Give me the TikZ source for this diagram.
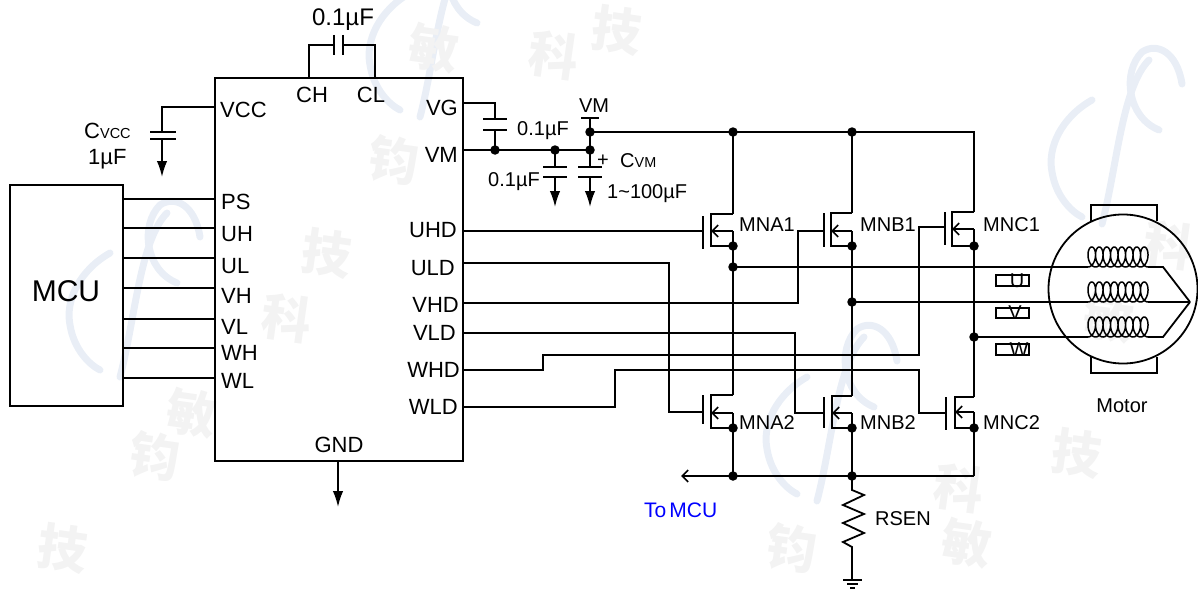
\documentclass[tikz,border=0pt]{standalone}
\usepackage{fontspec}
\setmainfont{Liberation Sans}
\newfontfamily\cjk{Noto Sans CJK SC}
\usetikzlibrary{arrows.meta}
\definecolor{markblue}{RGB}{233,238,246}
\definecolor{markgray}{RGB}{243,243,243}
\definecolor{tolink}{RGB}{0,0,255}

\tikzset{
  every node/.style={font=\fontsize{20}{24}\selectfont, inner sep=0pt, text height=14.3pt, text depth=0pt},
  pinlabel/.style={font=\fontsize{22}{26}\selectfont, text height=15.8pt},
  wire/.style={line width=1.8pt, line join=miter},
  dot/.style={circle, fill=black, minimum size=9.5pt, text height=, text depth=},
  gndarrow/.style={wire, -{Latex[length=16pt,width=10.5pt]}},
  barb/.style={wire, -{Straight Barb[length=6pt,width=12pt,line width=1.6pt]}},
  block/.style={draw, line width=1.8pt, anchor=north west},
  swoosh/.style={markblue, line width=7pt, line cap=round},
  seal/.style={markgray, font=\cjk\bfseries\fontsize{50}{58}\selectfont, rotate=-8},
}

\begin{document}
\begin{tikzpicture}[x=1pt, y=-1pt]
\useasboundingbox (0,0) rectangle (1198,591);

\foreach \ox/\oy in {0/0, 300/-260, 697/124, 982/-153}{
  \begin{scope}[shift={(\ox,\oy)}]
    \draw[swoosh] (110,253) .. controls (80,270) and (65,300) .. (70,325) .. controls (74,350) and (90,365) .. (100,370);
    \draw[swoosh] (167,213) .. controls (140,240) and (135,320) .. (120,377);
    \draw[swoosh] (200,237) .. controls (195,205) and (175,195) .. (160,205) .. controls (140,225) and (145,270) .. (177,283);
  \end{scope}
}
\foreach \ch/\mx/\my in {钧/153/468, 敏/190/425, 技/61/560, 科/285/330, 技/325/265, 钧/392/172, 敏/432/60,
                         科/552/67, 技/615/42, 钧/790/560, 敏/965/555, 科/957/500, 技/1075/465, 敏/1107/330, 科/1167/257}{
  \node[seal] (seal\mx) at (\mx,\my) {\ch};
}

\node[block, minimum width=113pt, minimum height=221pt] (mcu) at (9,184) {};
\node[block, minimum width=248pt, minimum height=383pt] (chip) at (214,77) {};
\node (mcutext) at (66,294) {\fontsize{30}{36}\selectfont MCU};

\foreach \pin/\yl/\yw in {PS/202/199, UH/234/228, UL/266/258, VH/296/288, VL/327/319, WH/353/348, WL/381/378}{
  \node[pinlabel, anchor=west] (lab\pin) at (221,\yl) {\pin};
  \coordinate (m\pin) at (122,\yw);
  \coordinate (c\pin) at (214,\yw);
  \draw[wire] (m\pin) -- (c\pin);
}
\foreach \pin/\yl/\xr in {VG/108/458, VM/155/458, UHD/230/457, ULD/268/455, VHD/305/459, VLD/333/456, WHD/370/460, WLD/407/458}{
  \node[pinlabel, anchor=east] (lab\pin) at (\xr,\yl) {\pin};
}
\node[pinlabel, anchor=west] (labVCC) at (220,110) {VCC};
\node[pinlabel] (labCH) at (312,95) {CH};
\node[pinlabel] (labCL) at (371,95) {CL};
\node[pinlabel] (labGND) at (339,445) {GND};

\coordinate (cCH) at (309,77);
\coordinate (cCL) at (375,77);
\coordinate (bCH) at (309,45);
\coordinate (bCL) at (375,45);
\coordinate (capa) at (334,45);
\coordinate (capb) at (343,45);
\draw[wire] (cCH) -- (bCH) -- (capa);
\draw[wire] (cCL) -- (bCL) -- (capb);
\draw[wire] (334,35) -- (334,55);
\draw[wire] (343,35) -- (343,55);
\node[font=\fontsize{24}{28}\selectfont] (capH) at (343,18) {0.1µF};

\coordinate (cVCC) at (214,107);
\coordinate (vccb) at (162,107);
\coordinate (vcca) at (162,132);
\coordinate (vccc) at (162,139);
\coordinate (vcct) at (162,177);
\draw[wire] (cVCC) -- (vccb) -- (vcca);
\draw[wire] (150,132) -- (176,132);
\draw[wire] (150,139) -- (176,139);
\draw[gndarrow] (vccc) -- (vcct);
\node[pinlabel, anchor=west] (labC) at (84,131) {C{\fontsize{14.5}{16}\selectfont VCC}};
\node[pinlabel, anchor=west] (lab1u) at (88,157) {1µF};

\coordinate (cVG) at (462,103);
\coordinate (vgb) at (495,103);
\coordinate (vga) at (495,119);
\coordinate (vgc) at (495,130);
\coordinate (jVG) at (495,150);
\coordinate (cVM) at (462,150);
\coordinate (jC) at (555,150);
\coordinate (jD) at (590,150);
\coordinate (jVM) at (590,132);
\coordinate (vmtop) at (590,118);
\draw[wire] (cVG) -- (vgb) -- (vga);
\draw[wire] (483,119) -- (507,119);
\draw[wire] (483,130) -- (507,130);
\draw[wire] (vgc) -- (jVG);
\draw[wire] (cVM) -- (jD);
\draw[wire] (vmtop) -- (jD);
\draw[wire] (581,118) -- (599,118);
\node (labVMtop) at (594,105) {VM};
\node[anchor=west] (cap2) at (517,128) {0.1µF};
\node[anchor=west] (cap3) at (488,179) {0.1µF};
\node[anchor=west] (cap4) at (607,191) {1\textasciitilde100µF};
\node (plus) at (603,159) {+};
\node[anchor=west] (labCVM) at (620,160) {C{\fontsize{14.4}{16}\selectfont VM}};
\foreach \cx/\top/\lft/\rgt in {555/jC/543/567, 590/jD/578/602}{
  \coordinate (up\cx) at (\cx,167);
  \coordinate (dn\cx) at (\cx,177);
  \coordinate (tip\cx) at (\cx,207);
  \draw[wire] (\top) -- (up\cx);
  \draw[wire] (\lft,167) -- (\rgt,167);
  \draw[wire] (\lft,177) -- (\rgt,177);
  \draw[gndarrow] (dn\cx) -- (tip\cx);
}

\coordinate (chipgnd) at (338,460);
\coordinate (gndtip) at (338,507);
\draw[gndarrow] (chipgnd) -- (gndtip);

\foreach \fet/\gx/\gt/\gb/\gy/\cx/\dx/\ct/\cm/\cb in {
    A1/703/216/249/231/711/733/214/231/246,
    B1/824/213/247/231/831/852/213/231/246,
    C1/945/212/245/227/952/974/212/229/246,
    A2/703/395/424/412/711/733/395/413/428,
    B2/824/397/428/413/832/852/396/413/428,
    C2/946/397/430/413/955/974/397/412/428}{
  \coordinate (g\fet) at (\gx,\gy);
  \coordinate (ct\fet) at (\cx,\ct);
  \coordinate (cb\fet) at (\cx,\cb);
  \coordinate (cm\fet) at (\cx,\cm);
  \coordinate (d\fet) at (\dx,\ct);
  \coordinate (m\fet) at (\dx,\cm);
  \coordinate (s\fet) at (\dx,\cb);
  \draw[wire] (\gx,\gt) -- (\gx,\gb);
  \draw[wire] (d\fet) -- (ct\fet) -- (cb\fet) -- (s\fet);
  \draw[barb] (m\fet) -- (cm\fet);
  \draw[wire] (m\fet) -- (s\fet);
}
\node[anchor=west] (nameA1) at (739,224) {MNA1};
\node[anchor=west] (nameB1) at (860,224) {MNB1};
\node[anchor=west] (nameC1) at (983,224) {MNC1};
\node[anchor=west] (nameA2) at (739,422) {MNA2};
\node[anchor=west] (nameB2) at (860,422) {MNB2};
\node[anchor=west] (nameC2) at (983,422) {MNC2};

\coordinate (railA) at (733,132);
\coordinate (railB) at (852,132);
\coordinate (railC) at (974,132);
\draw[wire] (jVM) -- (railC) -- (dC1);
\draw[wire] (railA) -- (dA1);
\draw[wire] (railB) -- (dB1);
\draw[wire] (sA1) -- (dA2);
\draw[wire] (sB1) -- (dB2);
\draw[wire] (sC1) -- (dC2);

\coordinate (cUHD) at (462,231);
\coordinate (cULD) at (462,263);
\coordinate (cVHD) at (462,303);
\coordinate (cVLD) at (462,333);
\coordinate (cWHD) at (462,370);
\coordinate (cWLD) at (462,407);
\draw[wire] (cUHD) -- (gA1);
\draw[wire] (cULD) -- (669,263) -- (669,412) -- (gA2);
\draw[wire] (cVHD) -- (798,303) -- (798,231) -- (gB1);
\draw[wire] (cVLD) -- (795,333) -- (795,413) -- (gB2);
\draw[wire] (cWHD) -- (543,370) -- (543,355) -- (919,355) -- (919,227) -- (gC1);
\draw[wire] (cWLD) -- (615,407) -- (615,370) -- (919,370) -- (919,413) -- (gC2);

\coordinate (jU) at (733,267);
\coordinate (jV) at (852,302);
\coordinate (jW) at (974,337);
\coordinate (botA) at (733,476);
\coordinate (botB) at (852,476);
\coordinate (botC) at (974,476);
\coordinate (tomcu) at (681,476);
\draw[wire] (sA2) -- (botA);
\draw[wire] (sB2) -- (botB);
\draw[wire] (sC2) -- (botC);
\draw[barb] (botC) -- (tomcu);
\node[anchor=west, text=tolink, font=\fontsize{21}{25}\selectfont] (labMCU) at (644,510) {To\hspace{3pt}MCU};

\coordinate (rtop) at (852,490);
\coordinate (rbot) at (852,547);
\coordinate (gnd) at (852,580);
\draw[wire] (botB) -- (rtop) -- (864,495) -- (843,505) -- (864,514) -- (843,523) -- (864,533) -- (843,542) -- (rbot) -- (gnd);
\draw[wire] (843,580) -- (862,580);
\draw[wire] (847,584) -- (858,584);
\draw[wire] (850,588) -- (855,588);
\node[anchor=west] (labRSEN) at (875,518) {RSEN};

\foreach \j in {railA, railB, jVG, jC, jD, jVM, sA1, sB1, sC1, jU, jV, jW, sA2, sB2, sC2, botA, botB}{
  \node[dot] (dot\j) at (\j) {};
}

\coordinate (hub) at (1190,302);
\draw[wire] (1091,221) -- (1091,205) -- (1157,205) -- (1157,221);
\draw[wire] (1091,357) -- (1091,373) -- (1157,373) -- (1157,357);
\node[circle, draw, line width=1.8pt, minimum size=149pt, text height=, text depth=] (motor) at (1123,289) {};
\foreach \ph/\yb/\src in {U/267/jU, V/302/jV, W/337/jW}{
  \coordinate (in\ph) at (1088,\yb);
  \coordinate (out\ph) at (1148,\yb);
  \draw[wire] (\src) -- (in\ph);
  \draw[line width=1.5pt] plot[domain=0:2880, samples=420] ({1088+\x/2880*60+5.5*sin(\x)},{\yb-10+10*cos(\x)});
}
\draw[wire] (outU) -- (1163,267) -- (hub);
\draw[wire] (outV) -- (hub);
\draw[wire] (outW) -- (1163,337) -- (hub);
\foreach \ph/\ty/\tx/\yt/\yb in {U/280/1017/275/286, V/312/1015/308/318, W/349/1019/344/355}{
  \draw[wire] (996,\yt) rectangle (1029,\yb);
  \node (coil\ph) at (\tx,\ty) {\ph};
}
\node (labmotor) at (1122,405) {Motor};
\end{tikzpicture}
\end{document}
